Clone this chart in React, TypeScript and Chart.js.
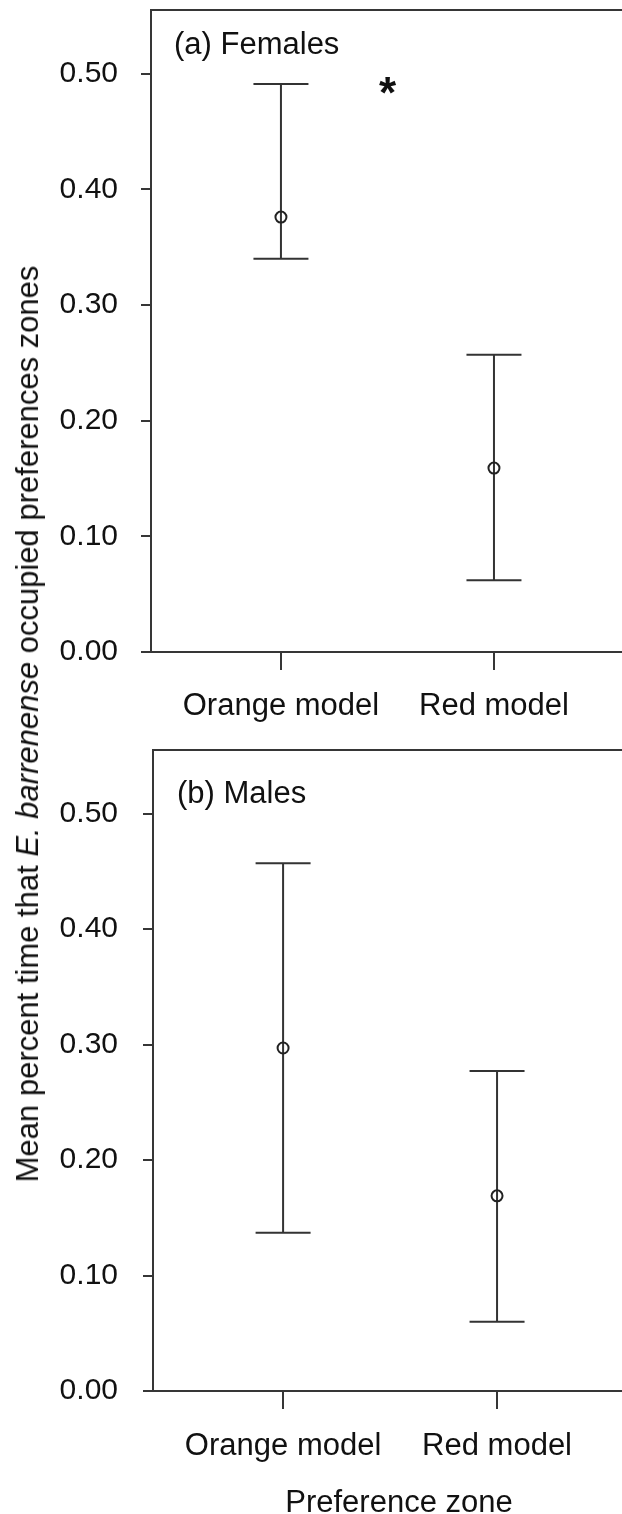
import React, { useEffect, useRef } from "react";
import { Chart, registerables } from "chart.js";

Chart.register(...registerables);

// ---- data ----
const categories = ["Orange model", "Red model"];
const yTickValues = [0, 0.1, 0.2, 0.3, 0.4, 0.5];
const femalesMean = [0.376, 0.159];
const femalesLower = [0.34, 0.062];
const femalesUpper = [0.491, 0.257];
const malesMean = [0.297, 0.169];
const malesLower = [0.137, 0.06];
const malesUpper = [0.457, 0.277];
const panelLabels = ["(a) Females", "(b) Males"];
const significanceMark = "*";
const xTitle = "Preference zone";
const yTitleStart = "Mean percent time that ";
const yTitleItalic = "E. barrenense";
const yTitleEnd = " occupied preferences zones";

const FONT = '"Liberation Sans", Arial, Helvetica, sans-serif';
const AXIS = "#363636";
const TEXT = "#111111";

type PanelCfg = {
  mean: number[];
  lower: number[];
  upper: number[];
  label: string;
  labelDx: number;
  labelDy: number;
  star: boolean;
  xTitle: boolean;
  yWidth: number;
  yPad: number;
  xHeight: number;
  xPad: number;
  padTop: number;
  xMin: number;
  xMax: number;
};

function makePlugin(p: PanelCfg) {
  return {
    id: "panelDecor",
    beforeDatasetsDraw(chart: any) {
      const { ctx, scales } = chart;
      const x = scales.x;
      const y = scales.y;
      ctx.save();
      ctx.strokeStyle = "#333333";
      ctx.lineWidth = 2;
      p.mean.forEach((_m, i) => {
        const px = x.getPixelForValue(i + 1);
        const top = y.getPixelForValue(p.upper[i]);
        const bot = y.getPixelForValue(p.lower[i]);
        ctx.beginPath();
        ctx.moveTo(px, top);
        ctx.lineTo(px, bot);
        ctx.moveTo(px - 27.5, top);
        ctx.lineTo(px + 27.5, top);
        ctx.moveTo(px - 27.5, bot);
        ctx.lineTo(px + 27.5, bot);
        ctx.stroke();
      });
      ctx.restore();
    },
    afterDraw(chart: any) {
      const { ctx, chartArea, scales } = chart;
      ctx.save();
      ctx.strokeStyle = AXIS;
      ctx.lineWidth = 2;
      ctx.beginPath();
      ctx.moveTo(chartArea.left - 1, chartArea.top);
      ctx.lineTo(chart.width, chartArea.top);
      ctx.stroke();
      ctx.fillStyle = TEXT;
      ctx.textAlign = "left";
      ctx.textBaseline = "alphabetic";
      ctx.font = `31px ${FONT}`;
      ctx.fillText(p.label, chartArea.left + p.labelDx, chartArea.top + p.labelDy);
      if (p.star) {
        ctx.textAlign = "center";
        ctx.font = `bold 44px ${FONT}`;
        ctx.fillText(significanceMark, scales.x.getPixelForValue(1.5), chartArea.top + 98);
      }
      if (p.xTitle) {
        ctx.textAlign = "center";
        ctx.font = `31px ${FONT}`;
        ctx.fillText(xTitle, 399, chart.height - 2);
      }
      ctx.restore();
    },
  };
}

function buildChart(canvas: HTMLCanvasElement, p: PanelCfg) {
  return new Chart(canvas, {
    type: "scatter",
    data: {
      datasets: [
        {
          data: p.mean.map((m, i) => ({ x: i + 1, y: m })),
          pointRadius: 5.5,
          pointBorderWidth: 2,
          pointBorderColor: "#222222",
          pointBackgroundColor: "rgba(0,0,0,0)",
          pointHoverRadius: 5.5,
        },
      ],
    },
    options: {
      responsive: false,
      animation: false,
      events: [],
      layout: { padding: { top: p.padTop, left: 0, right: 0, bottom: 0 }, autoPadding: false },
      plugins: { legend: { display: false }, tooltip: { enabled: false }, title: { display: false } },
      scales: {
        x: {
          type: "linear",
          position: "bottom",
          min: p.xMin,
          max: p.xMax,
          afterBuildTicks: (s: any) => {
            s.ticks = categories.map((_c, i) => ({ value: i + 1 }));
          },
          afterFit: (s: any) => {
            s.height = p.xHeight;
            s.paddingLeft = 0;
            s.paddingRight = 0;
            s.paddingTop = 0;
            s.paddingBottom = 0;
          },
          ticks: {
            callback: (v: any) => categories[Math.round(Number(v)) - 1] ?? "",
            font: { family: FONT, size: 31 },
            color: TEXT,
            padding: p.xPad,
            maxRotation: 0,
            autoSkip: false,
          },
          grid: { drawOnChartArea: false, drawTicks: true, tickLength: 18, color: AXIS, lineWidth: 2 },
          border: { display: true, color: AXIS, width: 2 },
        },
        y: {
          type: "linear",
          min: 0,
          max: 0.555,
          afterBuildTicks: (s: any) => {
            s.ticks = yTickValues.map((v) => ({ value: v }));
          },
          afterFit: (s: any) => {
            s.width = p.yWidth;
            s.paddingTop = 0;
            s.paddingBottom = 0;
            s.paddingLeft = 0;
            s.paddingRight = 0;
          },
          ticks: {
            callback: (v: any) => Number(v).toFixed(2),
            font: { family: FONT, size: 30 },
            color: TEXT,
            padding: p.yPad,
          },
          grid: { drawOnChartArea: false, drawTicks: true, tickLength: 10, color: AXIS, lineWidth: 2 },
          border: { display: true, color: AXIS, width: 2 },
        },
      },
    },
    plugins: [makePlugin(p)],
  } as any);
}

export default function App() {
  const refA = useRef<HTMLCanvasElement | null>(null);
  const refB = useRef<HTMLCanvasElement | null>(null);

  useEffect(() => {
    const a = buildChart(refA.current!, {
      mean: femalesMean,
      lower: femalesLower,
      upper: femalesUpper,
      label: panelLabels[0],
      labelDx: 23,
      labelDy: 44,
      star: true,
      xTitle: false,
      yWidth: 151,
      yPad: 23,
      xHeight: 93,
      xPad: 18,
      padTop: 10,
      xMin: 0.39,
      xMax: 2.601,
    });
    const b = buildChart(refB.current!, {
      mean: malesMean,
      lower: malesLower,
      upper: malesUpper,
      label: panelLabels[1],
      labelDx: 24,
      labelDy: 53,
      star: false,
      xTitle: true,
      yWidth: 153,
      yPad: 25,
      xHeight: 123,
      xPad: 19,
      padTop: 5,
      xMin: 0.392,
      xMax: 2.584,
    });
    return () => {
      a.destroy();
      b.destroy();
    };
  }, []);

  return (
    <div style={{ position: "absolute", left: 0, top: 0, width: 622, height: 1514, background: "#fff", overflow: "hidden" }}>
      <canvas ref={refA} width={622} height={745} style={{ position: "absolute", left: 0, top: 0, display: "block" }} />
      <canvas ref={refB} width={622} height={769} style={{ position: "absolute", left: 0, top: 745, display: "block" }} />
      <div
        style={{
          position: "absolute",
          left: 28,
          top: 724,
          transform: "translate(-50%, -50%) rotate(-90deg)",
          whiteSpace: "nowrap",
          fontFamily: FONT,
          fontSize: 31,
          lineHeight: "36px",
          color: TEXT,
        }}
      >
        {yTitleStart}
        <i>{yTitleItalic}</i>
        {yTitleEnd}
      </div>
    </div>
  );
}
